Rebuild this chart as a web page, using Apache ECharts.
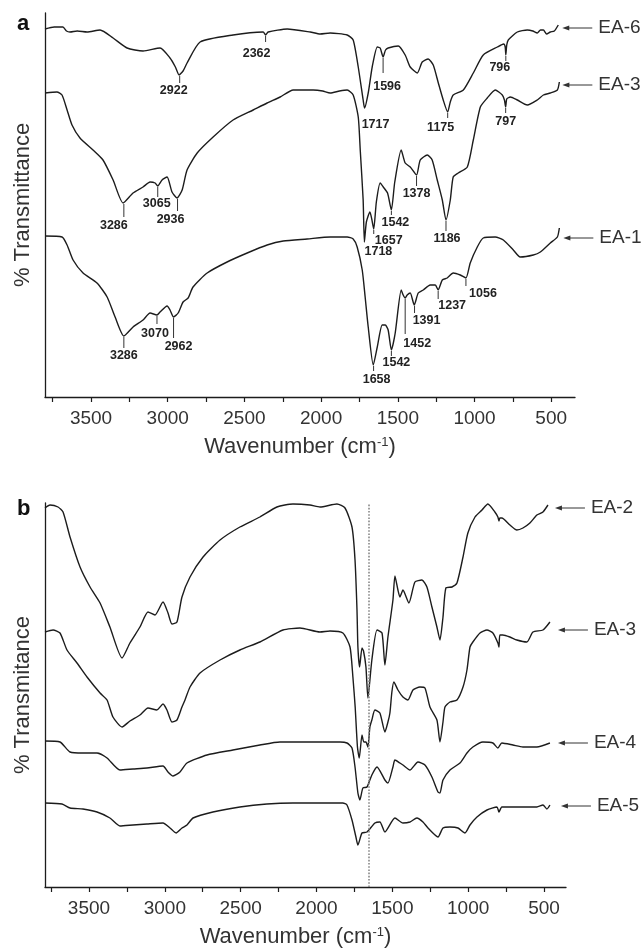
<!DOCTYPE html>
<html>
<head>
<meta charset="utf-8">
<script src="https://cdn.jsdelivr.net/npm/echarts@6/dist/echarts.min.js"></script>
<style>
html,body{margin:0;padding:0;background:#fff}
#chart{width:642px;height:949px}
</style>
</head>
<body>
<div id="chart"></div>
<script>
// panel a spectra: [wavenumber, transmittance (arbitrary, offset)]
var ea6A = [[3800,368],[3740,370],[3683,370],[3660,366],[3637,365],[3590,366],[3526,365],[3441,367],[3356,359],[3265,349],[3161,346],[3050,349],[2985,339],[2950,330],[2926,322],[2900,326],[2874,334],[2789,355],[2574,362],[2378,365],[2362,362],[2345,365],[2221,368],[2071,365],[2006,363],[1941,364],[1830,362],[1791,357],[1758,330],[1726,297],[1717,289],[1693,304],[1667,330],[1634,350],[1615,349],[1596,340],[1580,347],[1563,349],[1497,351],[1452,342],[1419,330],[1373,324],[1341,335],[1302,338],[1269,332],[1236,314],[1204,297],[1175,285],[1158,295],[1139,302],[1073,307],[1008,324],[943,342],[851,350],[810,353],[800,350],[796,342],[790,352],[780,357],[721,365],[656,367],[620,366],[591,364],[570,367],[551,367],[530,363],[506,365],[480,366],[454,372]];
var ea3A = [[3800,304],[3722,305],[3689,302],[3656,287],[3624,272],[3572,259],[3487,247],[3422,237],[3356,217],[3291,194],[3226,204],[3161,210],[3115,215],[3082,214],[3065,211],[3037,217],[3004,220],[2972,205],[2939,199],[2906,207],[2874,227],[2808,244],[2704,260],[2574,277],[2443,287],[2352,294],[2267,300],[2182,307],[2052,307],[1990,306],[1941,304],[1880,306],[1830,307],[1791,302],[1758,280],[1745,247],[1726,197],[1718,155],[1705,175],[1682,185],[1670,178],[1657,168],[1640,195],[1615,214],[1595,210],[1567,204],[1542,187],[1520,215],[1478,247],[1452,234],[1419,230],[1378,222],[1354,237],[1308,242],[1276,237],[1243,217],[1210,197],[1186,177],[1158,197],[1139,220],[1106,224],[1047,230],[1008,257],[962,290],[917,299],[865,307],[819,302],[805,297],[797,290],[790,298],[767,300],[721,297],[656,292],[591,297],[551,302],[506,304],[460,307],[447,315]];
var ea1A = [[3800,161],[3689,160],[3656,152],[3617,137],[3552,124],[3461,114],[3395,100],[3343,80],[3286,61],[3226,70],[3161,77],[3115,84],[3070,82],[3050,85],[3004,91],[2985,87],[2962,80],[2932,84],[2900,95],[2867,99],[2835,110],[2743,124],[2613,135],[2482,144],[2352,152],[2247,156],[2091,158],[1941,160],[1830,160],[1791,158],[1765,150],[1732,127],[1713,100],[1693,70],[1660,32],[1634,50],[1602,72],[1582,72],[1563,67],[1542,47],[1517,64],[1478,107],[1465,102],[1452,99],[1439,102],[1419,104],[1393,92],[1367,104],[1334,107],[1289,112],[1256,112],[1237,107],[1210,117],[1178,119],[1139,124],[1093,122],[1056,119],[1028,134],[982,150],[943,159],[865,160],[812,157],[747,147],[702,140],[617,142],[571,145],[506,154],[460,160],[447,169]];

// panel b spectra
var ea2B = [[3790,379],[3757,382],[3704,380],[3671,375],[3625,350],[3559,320],[3493,300],[3427,284],[3362,260],[3282,229],[3230,244],[3164,260],[3111,275],[3065,272],[3012,285],[2979,274],[2953,263],[2920,265],[2887,290],[2834,310],[2748,330],[2636,347],[2505,360],[2373,370],[2261,380],[2155,383],[2043,382],[1977,380],[1865,383],[1812,379],[1766,360],[1746,327],[1733,277],[1727,240],[1716,220],[1700,239],[1690,236],[1674,220],[1661,189],[1635,227],[1601,257],[1568,254],[1549,222],[1529,250],[1496,287],[1483,311],[1463,297],[1450,290],[1430,297],[1391,284],[1351,305],[1305,307],[1272,300],[1239,280],[1206,260],[1186,247],[1166,270],[1147,299],[1107,300],[1074,304],[1034,330],[1002,354],[955,370],[909,377],[870,383],[824,375],[804,370],[797,366],[791,369],[778,369],[725,362],[679,357],[639,359],[593,364],[547,372],[507,375],[474,382]];
var ea3B = [[3790,255],[3737,257],[3691,254],[3645,237],[3579,224],[3513,210],[3427,194],[3381,187],[3342,170],[3282,160],[3230,166],[3164,172],[3111,179],[3052,177],[3012,183],[2986,177],[2953,165],[2920,167],[2887,180],[2867,187],[2834,200],[2768,214],[2636,227],[2505,237],[2373,245],[2221,257],[2109,259],[1977,255],[1911,256],[1826,254],[1779,240],[1760,210],[1745,180],[1730,140],[1718,129],[1700,152],[1688,145],[1674,145],[1661,140],[1648,160],[1635,167],[1615,177],[1582,174],[1549,155],[1529,165],[1516,174],[1503,195],[1490,205],[1463,197],[1430,190],[1397,187],[1364,197],[1318,200],[1285,199],[1252,180],[1206,167],[1186,145],[1166,165],[1153,180],[1120,185],[1074,187],[1034,200],[1008,217],[988,240],[969,245],[922,254],[876,257],[837,254],[804,244],[797,240],[791,252],[771,252],[725,250],[679,247],[613,245],[573,255],[507,257],[461,265]];
var ea4B = [[3790,146],[3691,145],[3625,135],[3540,134],[3447,134],[3381,129],[3296,117],[3210,118],[3118,119],[3012,121],[2979,115],[2946,111],[2900,115],[2854,124],[2722,132],[2551,137],[2373,142],[2241,145],[2109,145],[1977,145],[1845,145],[1799,144],[1766,139],[1746,120],[1727,94],[1714,87],[1694,99],[1667,100],[1635,112],[1601,120],[1549,107],[1529,104],[1496,120],[1483,127],[1450,124],[1430,122],[1384,117],[1331,125],[1285,122],[1239,110],[1199,95],[1186,94],[1166,107],[1120,117],[1054,124],[1008,134],[969,140],[903,145],[837,144],[804,139],[778,144],[705,142],[639,140],[547,140],[461,144]];
var ea5B = [[3790,84],[3678,83],[3625,79],[3540,78],[3447,75],[3362,69],[3296,61],[3210,62],[3118,63],[3012,64],[2966,59],[2926,54],[2887,59],[2854,62],[2814,69],[2683,75],[2505,80],[2327,83],[2155,84],[1977,84],[1826,84],[1799,82],[1766,67],[1740,50],[1727,42],[1700,54],[1667,55],[1615,64],[1582,65],[1549,55],[1483,69],[1430,64],[1384,65],[1338,69],[1298,65],[1265,59],[1199,50],[1166,59],[1120,60],[1067,59],[1021,54],[988,62],[942,70],[876,77],[810,80],[797,75],[778,80],[679,80],[547,80],[507,82],[481,78],[461,82]];

// peak labels (wavenumbers) in panel a
var peaks6 = [2922, 2362, 1717, 1596, 1175, 796];
var peaks3 = [3286, 3065, 2936, 1718, 1657, 1542, 1378, 1186, 797];
var peaks1 = [3286, 3070, 2962, 1658, 1542, 1452, 1391, 1237, 1056];
// label layout: [tick length, text offset below curve, text x offset] in px
var pos6 = [[7,9,-6],[6,12,-9],[0,10,11],[15,23,4],[5,9,-7],[5,6,-6]];
var pos3 = [[13,16,-10],[10,11,-1],[12,15,-7],[0,3,14],[4,5,15],[4,6,4],[10,12,0],[10,12,1],[5,8,0]];
var pos1 = [[11,13,0],[8,12,-2],[20,23,5],[5,8,3],[5,6,5],[35,39,12],[7,9,12],[8,9,14],[7,9,17]];

var ticksX = [3750,3500,3250,3000,2750,2500,2250,2000,1750,1500,1250,1000,750,500];
var labelsX = [3500,3000,2500,2000,1500,1000,500];
var amideLine = 1658;

var FONT = '"Liberation Sans", Arial, sans-serif';
var INK = '#1c1c1c';

var chart = echarts.init(document.getElementById('chart'));

function dipValue(curve, wn) {
    var best = Infinity;
    for (var w = wn - 8; w <= wn + 8; w++) {
        for (var i = 0; i < curve.length - 1; i++) {
            var a = curve[i], b = curve[i + 1];
            if (w <= a[0] && w >= b[0]) {
                var v = a[1] + (b[1] - a[1]) * (a[0] - w) / (a[0] - b[0]);
                if (v < best) best = v;
                break;
            }
        }
    }
    return best;
}

var annA = [];
function addPeaks(curve, peaks, pos) {
    for (var i = 0; i < peaks.length; i++) {
        annA.push({wn: peaks[i], v: dipValue(curve, peaks[i]), tick: pos[i][0], dy: pos[i][1], dx: pos[i][2]});
    }
}
addPeaks(ea6A, peaks6, pos6);
addPeaks(ea3A, peaks3, pos3);
addPeaks(ea1A, peaks1, pos1);

function peakItem(params, api) {
    var a = annA[params.dataIndex];
    var p = api.coord([a.wn, a.v]);
    var kids = [];
    if (a.tick > 0) {
        kids.push({type: 'line', shape: {x1: p[0], y1: p[1] + 1, x2: p[0], y2: p[1] + 1 + a.tick},
            style: {stroke: '#333', lineWidth: 1}});
    }
    kids.push({type: 'text', x: p[0] + a.dx, y: p[1] + a.dy,
        style: {text: String(a.wn), fill: '#222', fontSize: 12.5, fontWeight: 'bold', fontFamily: FONT,
            align: 'center', verticalAlign: 'top'}});
    return {type: 'group', children: kids};
}

// sample tags at the right end of each curve: [curve, name, arrow head dx, dy]
var tagsA = [[ea6A, 'EA-6', 4, 3], [ea3A, 'EA-3', 3, 3], [ea1A, 'EA-1', 4, 10]];
var tagsB = [[ea2B, 'EA-2', 7, 3], [ea3B, 'EA-3', 8, 8], [ea4B, 'EA-4', 8, 0], [ea5B, 'EA-5', 11, 1]];

function tagRenderer(tags) {
    return function (params, api) {
        var t = tags[params.dataIndex];
        var last = t[0][t[0].length - 1];
        var p = api.coord(last);
        var hx = p[0] + t[2], y = p[1] + t[3];
        return {type: 'group', children: [
            {type: 'polygon', shape: {points: [[hx, y], [hx + 7, y - 2.6], [hx + 7, y + 2.6]]}, style: {fill: '#333'}},
            {type: 'line', shape: {x1: hx + 5, y1: y, x2: hx + 30, y2: y}, style: {stroke: '#333', lineWidth: 1}},
            {type: 'text', x: hx + 36, y: y, style: {text: t[1], fill: '#333', fontSize: 19, fontFamily: FONT,
                align: 'left', verticalAlign: 'middle'}}
        ]};
    };
}

function xAxis(idx, min, max) {
    return {
        type: 'value', gridIndex: idx, inverse: true, min: min, max: max,
        name: 'Wavenumber (cm{sup|-1})', nameLocation: 'middle', nameGap: 39,
        nameTextStyle: {fontSize: 22, color: '#333', fontFamily: FONT, padding: [0, 20, 0, 0],
            rich: {sup: {fontSize: 13, color: '#333', fontFamily: FONT, verticalAlign: 'top', lineHeight: 13}}},
        axisLine: {show: true, lineStyle: {color: INK, width: 1.3}},
        axisTick: {show: true, length: 5, customValues: ticksX, lineStyle: {color: INK, width: 1.2}},
        axisLabel: {customValues: labelsX, fontSize: 19, color: '#333', fontFamily: FONT, margin: 12,
            formatter: function (v) { return String(v); }},
        splitLine: {show: false}
    };
}

function yAxis(idx, name) {
    return {
        type: 'value', gridIndex: idx, min: 0, max: 384,
        name: name, nameLocation: 'middle', nameGap: 11, nameRotate: 90,
        nameTextStyle: {fontSize: 22, color: '#333', fontFamily: FONT},
        axisLine: {show: true, lineStyle: {color: INK, width: 1.3}},
        axisTick: {show: false}, axisLabel: {show: false}, splitLine: {show: false}
    };
}

function curve(data, idx) {
    return {type: 'line', xAxisIndex: idx, yAxisIndex: idx, data: data, symbol: 'none', smooth: 0.2,
        lineStyle: {color: INK, width: 1.4}, silent: true};
}

var b2 = curve(ea2B, 1);
b2.markLine = {silent: true, symbol: 'none', label: {show: false},
    lineStyle: {type: 'dotted', color: '#888', width: 1.6}, data: [{xAxis: amideLine}]};

chart.setOption({
    animation: false,
    title: [
        {text: 'a', left: 12, top: 8, textStyle: {fontSize: 22, fontWeight: 'bold', color: '#111', fontFamily: FONT}},
        {text: 'b', left: 12, top: 493, textStyle: {fontSize: 22, fontWeight: 'bold', color: '#111', fontFamily: FONT}}
    ],
    grid: [
        {left: 45, top: 13, width: 530, height: 384},
        {left: 45, top: 503, width: 521, height: 384}
    ],
    xAxis: [xAxis(0, 345, 3800), xAxis(1, 355, 3790)],
    yAxis: [yAxis(0, '% Transmittance'), yAxis(1, '% Transmitance')],
    series: [
        curve(ea6A, 0), curve(ea3A, 0), curve(ea1A, 0),
        b2, curve(ea3B, 1), curve(ea4B, 1), curve(ea5B, 1),
        {type: 'custom', xAxisIndex: 0, yAxisIndex: 0, clip: false, silent: true,
            data: annA.map(function (a) { return [a.wn, a.v]; }), renderItem: peakItem},
        {type: 'custom', xAxisIndex: 0, yAxisIndex: 0, clip: false, silent: true,
            data: tagsA.map(function (t) { return t[0][t[0].length - 1]; }), renderItem: tagRenderer(tagsA)},
        {type: 'custom', xAxisIndex: 1, yAxisIndex: 1, clip: false, silent: true,
            data: tagsB.map(function (t) { return t[0][t[0].length - 1]; }), renderItem: tagRenderer(tagsB)}
    ]
});
</script>
</body>
</html>
